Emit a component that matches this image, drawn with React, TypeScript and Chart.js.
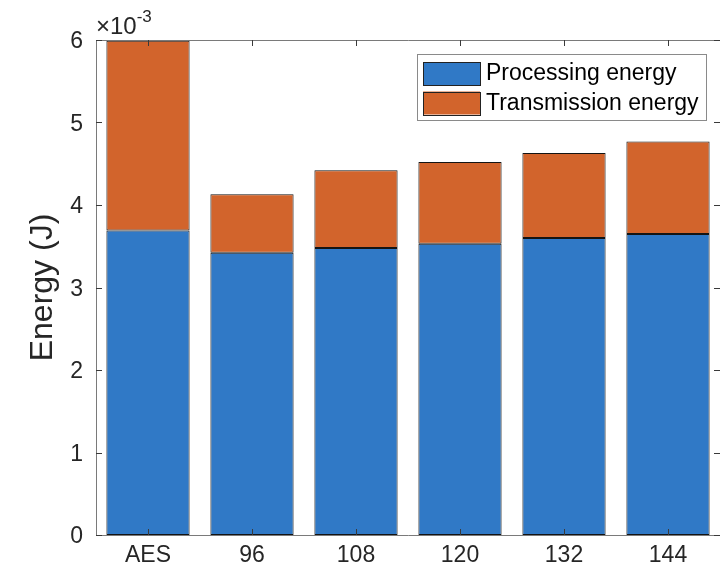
import React, { useEffect, useRef } from "react";
import { Chart, registerables } from "chart.js";

Chart.register(...registerables);

// Energy per scheme, in units of 1e-3 J
const categories = ["AES", "96", "108", "120", "132", "144"];
const processingEnergy = [3.69, 3.42, 3.48, 3.53, 3.6, 3.65];
const transmissionEnergy = [2.3, 0.71, 0.94, 0.99, 1.03, 1.12];
const yTickValues = [0, 1, 2, 3, 4, 5, 6];
const seriesNames = ["Processing energy", "Transmission energy"];
const seriesColors = ["#3079c6", "#d2642c"];

const FONT = "'Liberation Sans', Arial, Helvetica, sans-serif";
const TEXT = "#262626";
const AXIS = "#7a7a7a";

// Box, inward ticks, axis title, exponent and legend in MATLAB style
const decorations = {
  id: "decorations",
  afterDatasetsDraw(chart: any) {
    const { ctx, chartArea: a, scales } = chart;
    const xs = scales.x;
    const ys = scales.y;
    ctx.save();
    ctx.strokeStyle = AXIS;
    ctx.lineWidth = 1;
    // box (left, bottom, top)
    ctx.beginPath();
    ctx.moveTo(a.left + 0.5, a.top + 0.5);
    ctx.lineTo(a.left + 0.5, a.bottom + 0.5);
    ctx.lineTo(a.right, a.bottom + 0.5);
    ctx.moveTo(a.left + 0.5, a.top + 0.5);
    ctx.lineTo(a.right, a.top + 0.5);
    ctx.stroke();
    // ticks
    ctx.strokeStyle = "#3a3a3a";
    ctx.beginPath();
    categories.forEach((_, i) => {
      const x = Math.round(xs.getPixelForValue(i)) + 0.5;
      ctx.moveTo(x, a.bottom);
      ctx.lineTo(x, a.bottom - 6);
      ctx.moveTo(x, a.top);
      ctx.lineTo(x, a.top + 6);
    });
    yTickValues.forEach((v) => {
      const y = Math.round(ys.getPixelForValue(v)) + 0.5;
      ctx.moveTo(a.left, y);
      ctx.lineTo(a.left + 6, y);
      ctx.moveTo(a.right, y);
      ctx.lineTo(a.right - 6, y);
    });
    ctx.stroke();

    // exponent label
    ctx.fillStyle = TEXT;
    ctx.textBaseline = "alphabetic";
    ctx.textAlign = "left";
    ctx.font = `24px ${FONT}`;
    ctx.fillText("\u00d710", a.left, 34);
    const w = ctx.measureText("\u00d710").width;
    ctx.font = `17px ${FONT}`;
    ctx.fillText("-3", a.left + w, 22);

    // y-axis title
    ctx.save();
    ctx.translate(43, (a.top + a.bottom) / 2);
    ctx.rotate(-Math.PI / 2);
    ctx.textAlign = "center";
    ctx.textBaseline = "middle";
    ctx.font = `32px ${FONT}`;
    ctx.fillText("Energy (J)", 0, 0);
    ctx.restore();

    // legend
    const lx = 417, ly = 54, lw = 289, lh = 66;
    ctx.fillStyle = "#ffffff";
    ctx.fillRect(lx, ly, lw, lh);
    ctx.strokeStyle = "#8a8a8a";
    ctx.strokeRect(lx + 0.5, ly + 0.5, lw, lh);
    seriesNames.forEach((name, i) => {
      const sy = 62 + i * 29.5;
      ctx.fillStyle = seriesColors[i];
      ctx.fillRect(423, sy, 57, 23);
      ctx.strokeStyle = "#222";
      ctx.strokeRect(423.5, Math.round(sy) + 0.5, 57, 23);
      ctx.fillStyle = "#000";
      ctx.font = `23px ${FONT}`;
      ctx.textAlign = "left";
      ctx.textBaseline = "middle";
      ctx.fillText(name, 486, sy + 12);
    });
    ctx.restore();
  },
};

export default function App() {
  const ref = useRef<HTMLCanvasElement | null>(null);

  useEffect(() => {
    if (!ref.current) return;
    const chart = new Chart(ref.current, {
      type: "bar",
      data: {
        labels: categories,
        datasets: [
          {
            label: seriesNames[0],
            data: processingEnergy,
            backgroundColor: seriesColors[0],
            borderColor: "#141414",
            borderWidth: 1,
            borderSkipped: false,
          },
          {
            label: seriesNames[1],
            data: transmissionEnergy,
            backgroundColor: seriesColors[1],
            borderColor: "#141414",
            borderWidth: 1,
            borderSkipped: false,
          },
        ],
      },
      options: {
        responsive: false,
        animation: false,
        devicePixelRatio: 1,
        layout: { padding: { top: 40, right: 0, left: 0, bottom: 0 } },
        datasets: { bar: { categoryPercentage: 1, barPercentage: 0.8 } },
        plugins: { legend: { display: false }, tooltip: { enabled: false } },
        scales: {
          x: {
            stacked: true,
            grid: { display: false, drawTicks: false },
            border: { display: false },
            ticks: { color: TEXT, font: { family: FONT, size: 23 }, padding: 7 },
            afterFit: (s: any) => { s.height = 41; },
          },
          y: {
            stacked: true,
            min: 0,
            max: 6,
            grid: { display: false, drawTicks: false },
            border: { display: false },
            afterBuildTicks: (s: any) => { s.ticks = yTickValues.map((v) => ({ value: v })); },
            ticks: { color: TEXT, font: { family: FONT, size: 23 }, padding: 13, labelOffset: 2 },
            afterFit: (s: any) => { s.width = 96; },
          },
        },
      },
      plugins: [decorations],
    });
    return () => chart.destroy();
  }, []);

  return (
    <div style={{ position: "fixed", left: 0, top: 0, width: 720, height: 576, background: "#fff" }}>
      <canvas ref={ref} width={720} height={576} style={{ width: 720, height: 576 }} />
    </div>
  );
}
